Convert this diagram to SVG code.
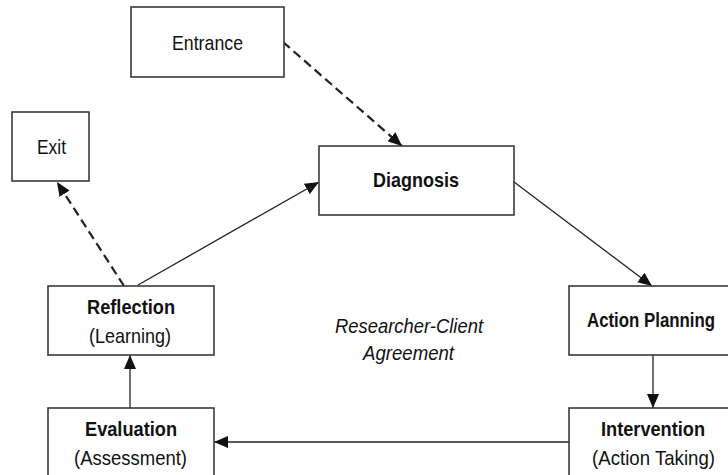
<svg xmlns="http://www.w3.org/2000/svg" width="728" height="475" viewBox="0 0 728 475">
  <style>
    .box { fill: #ffffff; stroke: #3a3a3a; stroke-width: 1.6; }
    .t { font-family: "Liberation Sans", Arial, sans-serif; font-size: 21px; fill: #111; text-anchor: middle; }
    .b { font-weight: bold; }
    .i { font-style: italic; }
    .line { fill: none; stroke: #222; stroke-width: 1.3; }
    .dash { fill: none; stroke: #222; stroke-width: 2.2; stroke-dasharray: 9 5; }
  </style>
  <defs>
    <marker id="arrow" markerUnits="userSpaceOnUse" markerWidth="14" markerHeight="12" refX="14" refY="6" orient="auto">
      <path d="M0,0 L14,6 L0,12 Z" fill="#111"/>
    </marker>
  </defs>
  <rect width="728" height="475" fill="#ffffff"/>

  <g id="connectors">
    <path class="dash" d="M283,42 L402,146" marker-end="url(#arrow)"/>
    <path class="dash" d="M124,286 L57,182" marker-end="url(#arrow)"/>
    <path class="line" d="M138,285 L319,182" marker-end="url(#arrow)"/>
    <path class="line" d="M514,182 L652,286" marker-end="url(#arrow)"/>
    <path class="line" d="M653,355 L653,408" marker-end="url(#arrow)"/>
    <path class="line" d="M569,442 L214,442" marker-end="url(#arrow)"/>
    <path class="line" d="M130,408 L130,355" marker-end="url(#arrow)"/>
  </g>

  <g id="entrance">
    <rect class="box" x="131" y="7" width="153" height="70"/>
    <text class="t" x="207.5" y="50" textLength="71" lengthAdjust="spacingAndGlyphs">Entrance</text>
  </g>

  <g id="exit">
    <rect class="box" x="12" y="112" width="77" height="69"/>
    <text class="t" x="51.5" y="154" textLength="29" lengthAdjust="spacingAndGlyphs">Exit</text>
  </g>

  <g id="diagnosis">
    <rect class="box" x="319" y="146" width="195" height="69"/>
    <text class="t b" x="416" y="187" textLength="86" lengthAdjust="spacingAndGlyphs">Diagnosis</text>
  </g>

  <g id="action-planning">
    <rect class="box" x="569" y="286" width="170" height="69"/>
    <text class="t b" x="651" y="327" textLength="128" lengthAdjust="spacingAndGlyphs">Action Planning</text>
  </g>

  <g id="intervention">
    <rect class="box" x="569" y="408" width="170" height="75"/>
    <text class="t b" x="653" y="436" textLength="104" lengthAdjust="spacingAndGlyphs">Intervention</text>
    <text class="t" x="653.5" y="465" textLength="123" lengthAdjust="spacingAndGlyphs">(Action Taking)</text>
  </g>

  <g id="evaluation">
    <rect class="box" x="48" y="408" width="166" height="75"/>
    <text class="t b" x="131" y="436" textLength="92" lengthAdjust="spacingAndGlyphs">Evaluation</text>
    <text class="t" x="130.5" y="465" textLength="113" lengthAdjust="spacingAndGlyphs">(Assessment)</text>
  </g>

  <g id="reflection">
    <rect class="box" x="48" y="286" width="166" height="69"/>
    <text class="t b" x="131" y="314" textLength="88" lengthAdjust="spacingAndGlyphs">Reflection</text>
    <text class="t" x="130" y="343" textLength="82" lengthAdjust="spacingAndGlyphs">(Learning)</text>
  </g>

  <g id="agreement">
    <text class="t i" x="409" y="333" textLength="148" lengthAdjust="spacingAndGlyphs">Researcher-Client</text>
    <text class="t i" x="408.5" y="360" textLength="91" lengthAdjust="spacingAndGlyphs">Agreement</text>
  </g>
</svg>
